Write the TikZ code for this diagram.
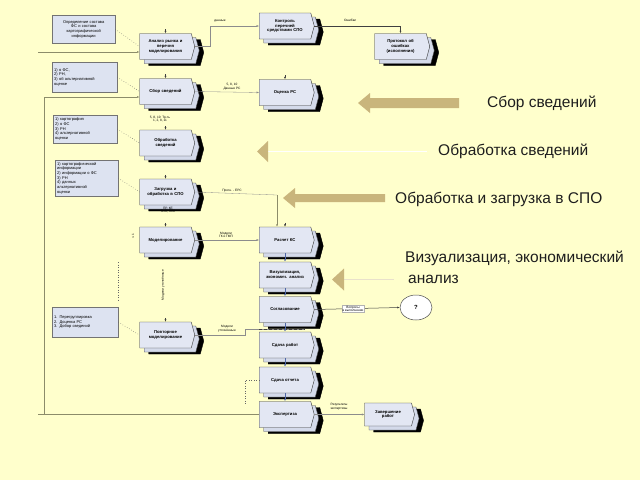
\documentclass[tikz,border=0pt]{standalone}
\usepackage{fontspec}
\setmainfont{Liberation Sans}
\usetikzlibrary{shapes.symbols,shapes.geometric,shadows,arrows.meta}
\definecolor{bg}{HTML}{FFFFCC}
\definecolor{boxfill}{HTML}{E3E7F3}
\definecolor{boxback}{HTML}{D4DAEA}
\definecolor{notefill}{HTML}{DDE3F1}
\definecolor{gold}{HTML}{C9B57C}
\definecolor{loopc}{HTML}{8C8C6A}
\definecolor{bluec}{HTML}{5068A8}
\definecolor{txtc}{HTML}{1E1E1E}
\newcommand{\myBoxFont}{\fontsize{4.2}{4.9}\selectfont\bfseries}
\newcommand{\myNoteFont}{\fontsize{4}{4.7}\selectfont}
\newcommand{\myTinyFont}{\fontsize{3.2}{3.7}\selectfont}
\newcommand{\myBigFont}{\fontsize{15.5}{21}\selectfont}
\begin{document}
\begin{tikzpicture}[x=1pt,y=-1pt,
  proc/.style={signal, signal to=east, signal pointer angle=150, draw=black!80,
    line width=0.4pt, fill=boxfill, minimum width=55pt, minimum height=26pt,
    inner sep=1pt, align=center, font=\myBoxFont, text width=46pt,
    general shadow={shadow xshift=9pt, shadow yshift=-6pt, fill=black, draw=black},
    general shadow={shadow xshift=4.5pt, shadow yshift=-4pt, fill=boxback, draw=black!70}},
  note/.style={draw=black!55, line width=0.4pt, fill=notefill, font=\myNoteFont,
    align=left, anchor=north west, inner sep=2pt},
  lab/.style={font=\myTinyFont, inner sep=0.5pt, align=center},
  biglab/.style={font=\myBigFont, text=txtc, anchor=west, inner sep=0pt, align=left},
  faint/.style={draw=black!45, line width=0.3pt},
  loopl/.style={draw=loopc, line width=1pt},
  darkl/.style={draw=black!75, line width=0.5pt},
  bluel/.style={draw=bluec, line width=0.6pt},
  dotl/.style={draw=black!60, line width=0.5pt, dotted},
  tip/.style={-{Latex[length=2.5pt,width=2pt]}}
]
\useasboundingbox (0,0) rectangle (640,480);
\fill[bg] (0,0) rectangle (640,480);

% coordinates
\coordinate (T1) at (38,52);
\coordinate (L1) at (38,414.5);
\coordinate (L2) at (44,97);
\coordinate (V1) at (277,195);
\coordinate (P2) at (305,329);
\coordinate (D1) at (245,405);
\coordinate (E1) at (118,262);
\coordinate (E2) at (118,300);

% note boxes
\node[note, text width=59pt, minimum height=28pt, align=center] (n1) at (52,15)
  {Определение состава\\ФС и состава\\картографической\\информации};
\node[note, text width=61pt, minimum height=30pt] (n2) at (52,62)
  {1) о ФС,\\2) РН,\\3) об альтернативной\\оценке};
\node[note, text width=60pt, minimum height=28pt] (n3) at (53,115)
  {1) картография\\2) о ФС\\3) РН\\4) альтернативной\\оценки};
\node[note, text width=59pt, minimum height=35pt] (n4) at (55,160)
  {1) картографической\\информации\\2) информации о ФС\\3) РН\\4) данных\\альтернативной\\оценки};
\node[note, text width=62pt, minimum height=30pt] (n5) at (52,307)
  {1. Перегруппировка\\2. Доценка РС\\3. Добор сведений};

% process boxes
\node[proc] (an) at (165.5,46.5) {Анализ рынка и\\перечня\\моделирования};
\node[proc] (sb) at (165.5,91.5) {Сбор сведений};
\node[proc] (ob) at (165.5,143) {Обработка\\сведений};
\node[proc] (zg) at (165.5,192) {Загрузка и\\обработка в СПО};
\node[proc] (md) at (165.5,240) {Моделирование};
\node[proc] (pm) at (165.5,335) {Повторное\\моделирование};
\node[proc] (kn) at (285,26) {Контроль\\перечней\\средствами СПО};
\node[proc] (pr) at (400.5,46.5) {Протокол об\\ошибках\\(исполнения)};
\node[proc] (oc) at (285,92.5) {Оценка РС};
\node[proc] (rk) at (285,240) {Расчет КС};
\node[proc] (vz) at (285,275) {Визуализация,\\экономич. анализ};
\node[proc] (sg) at (285,309.5) {Согласование};
\node[proc] (sr) at (285,345) {Сдача работ};
\node[proc] (so) at (285,380) {Сдача отчета};
\node[proc] (ex) at (285,414.5) {Экспертиза};
\node[proc, minimum width=50pt, minimum height=23pt, text width=42pt] (zv) at (388,414.5) {Завершение\\работ};
\node[ellipse, draw=black!70, fill=white, line width=0.5pt, minimum width=32pt, minimum height=25pt,
  font=\bfseries\fontsize{6}{7}\selectfont] (q) at (416,307.5) {?};

% loop lines
\draw[loopl] (ex.west) -- (L1);
\draw[loopl, tip] (L2 |- ex.west) -- (L2) -- (sb.west |- L2);
\draw[loopl, tip] (T1) -- (an.west |- T1);

% connectors
\draw[faint, tip] (an.east) -- ++(15,0) |- (kn.west);
\draw[darkl, tip] (kn.east) -| (pr.north);
\draw[faint, tip] (sb.east) -- (oc.west);
\draw[faint] (zg.east) -- (V1);
\draw[loopl, line width=0.7pt, tip] (V1) -- (V1 |- rk.north);
\draw[faint, tip] (md.east) -- (rk.west);
\draw[faint] (pm.east) -- ++(50,0) |- (P2);
\draw[darkl, densely dashed] (sr.north west |- P2) -- (P2);
\draw[darkl, tip] (sg.east) -- (q.west);
\draw[dotl] (so.west) -| (D1);
\draw[faint, tip] (ex.east) -- (zv.west);
\draw[dotl, line width=0.8pt] (E1) -- (E2);

% right column links
\draw[bluel, tip] (rk.south) -- (vz.north);
\draw[bluel, tip] (vz.south) -- (sg.north);
\draw[bluel, tip] (sg.south) -- (sr.north);
\draw[bluel, tip] (sr.south) -- (so.north);
\draw[bluel, tip] (so.south) -- (ex.north);

% note links
\draw[dotl] (n1.east) -- (an.west);
\draw[dotl] (n2.east) -- (sb.west);
\draw[dotl] (n3.east) -- (ob.west);
\draw[dotl] (n4.east) -- (zg.west);
\draw[dotl] (n5.east) -- (pm.west);

% small top arrows
\foreach \n in {an,sb,ob,zg,md,pm,oc,rk}
  \draw[darkl, line width=0.4pt, tip] ([yshift=4pt]\n.north) -- (\n.north);

% small labels
\node[lab] (l1) at (220,21) {данные};
\node[lab] (l2) at (350,20) {Ошибки};
\node[lab] (l3) at (232,87) {5, 8, 10\\Данные РС};
\node[lab] (l4) at (160,119) {5, 8, 10 \ Тр-ть\\1, 2, 8, 11};
\node[lab] (l5) at (168,210) {ПР, КЕ\\ГИП, ПП2};
\node[lab] (l6) at (232,191) {Прогн. - ЕРС};
\node[lab] (l7) at (226,235) {Модели\\ГК и ГМП};
\node[lab] (l8) at (227,329) {Модели\\уточнённые};
\node[lab, fill=white, draw=black!30, line width=0.2pt] (l9) at (353,309) {Вопросы\\в выполнении};
\node[lab] (l10) at (339,407) {Результаты\\экспертизы};
\node[lab, rotate=90] (l11) at (163,285) {Модели уточнённые};
\node[lab, rotate=90] (l12) at (133,236) {ч 1};

% gold arrows
\fill[gold] (459,98) -- (370,98) -- (370,93) -- (358,103) -- (370,113) -- (370,108) -- (459,108) -- cycle;
\draw[white, line width=1.6pt] (268,151.5) -- (427,151.5);
\fill[gold] (268,141) -- (257,151.5) -- (268,162) -- cycle;
\fill[gold] (385,194) -- (295,194) -- (295,188) -- (283,198) -- (295,208) -- (295,202) -- (385,202) -- cycle;
\draw[white!60!gold, line width=1.3pt] (344,279.5) -- (394,279.5);
\fill[gold] (344,268.5) -- (332,279.5) -- (344,290.5) -- cycle;

% big labels
\node[biglab] (b1) at (487,103) {Сбор сведений};
\node[biglab] (b2) at (438,151) {Обработка сведений};
\node[biglab] (b3) at (395,199) {Обработка и загрузка в СПО};
\node[biglab, anchor=north west] (b4) at (405,251) {Визуализация, экономический\\\hspace*{3pt}анализ};
\end{tikzpicture}
\end{document}
